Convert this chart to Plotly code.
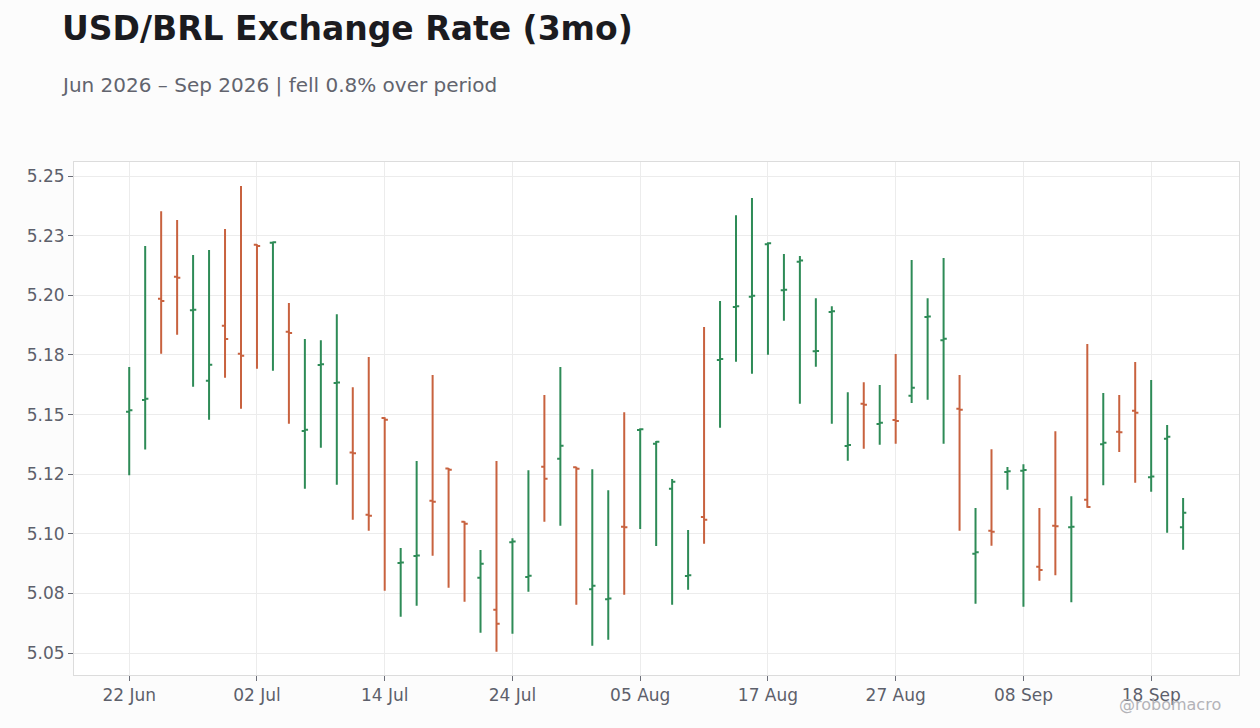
import plotly.graph_objects as go

dates = [
    "2026-06-22", "2026-06-23", "2026-06-24", "2026-06-25", "2026-06-26",
    "2026-06-29", "2026-06-30", "2026-07-01", "2026-07-02", "2026-07-03",
    "2026-07-06", "2026-07-07", "2026-07-08", "2026-07-09", "2026-07-10",
    "2026-07-13", "2026-07-14", "2026-07-15", "2026-07-16", "2026-07-17",
    "2026-07-20", "2026-07-21", "2026-07-22", "2026-07-23", "2026-07-24",
    "2026-07-27", "2026-07-28", "2026-07-29", "2026-07-30", "2026-07-31",
    "2026-08-03", "2026-08-04", "2026-08-05", "2026-08-06", "2026-08-07",
    "2026-08-10", "2026-08-11", "2026-08-12", "2026-08-13", "2026-08-14",
    "2026-08-17", "2026-08-18", "2026-08-19", "2026-08-20", "2026-08-21",
    "2026-08-24", "2026-08-25", "2026-08-26", "2026-08-27", "2026-08-28",
    "2026-08-31", "2026-09-01", "2026-09-02", "2026-09-03", "2026-09-04",
    "2026-09-07", "2026-09-08", "2026-09-09", "2026-09-10", "2026-09-11",
    "2026-09-14", "2026-09-15", "2026-09-16", "2026-09-17", "2026-09-18",
    "2026-09-21", "2026-09-22",
]

open_ = [
    5.1512, 5.1561, 5.1986, 5.2078, 5.1937, 5.1642, 5.1872, 5.1755, 5.2212, 5.2220,
    5.1847, 5.1431, 5.1708, 5.1632, 5.1341, 5.1080, 5.1486, 5.0878, 5.0907, 5.1139,
    5.1274, 5.1051, 5.0816, 5.0682, 5.0965, 5.0819, 5.1281, 5.1315, 5.1279, 5.0768,
    5.0726, 5.1030, 5.1435, 5.1378, 5.1189, 5.0823, 5.1071, 5.1729, 5.1951, 5.1994,
    5.2214, 5.2021, 5.2141, 5.1765, 5.1930, 5.1368, 5.1545, 5.1460, 5.1477, 5.1579,
    5.1909, 5.1812, 5.1524, 5.0916, 5.1013, 5.1259, 5.1264, 5.0862, 5.1034, 5.1028,
    5.1143, 5.1376, 5.1428, 5.1516, 5.1237, 5.1399, 5.1028,
]
high = [
    5.1699, 5.2207, 5.2353, 5.2316, 5.2169, 5.2190, 5.2278, 5.2458, 5.2214, 5.2226,
    5.1968, 5.1817, 5.1812, 5.1921, 5.1615, 5.1741, 5.1489, 5.0940, 5.1305, 5.1666,
    5.1276, 5.1053, 5.0932, 5.1305, 5.0981, 5.1267, 5.1582, 5.1699, 5.1281, 5.1271,
    5.1183, 5.1510, 5.1443, 5.1389, 5.1230, 5.1016, 5.1867, 5.1976, 5.2336, 5.2408,
    5.2223, 5.2173, 5.2165, 5.1988, 5.1954, 5.1594, 5.1636, 5.1624, 5.1754, 5.2148,
    5.1988, 5.2156, 5.1666, 5.1108, 5.1355, 5.1280, 5.1292, 5.1108, 5.1430, 5.1158,
    5.1796, 5.1590, 5.1582, 5.1720, 5.1645, 5.1456, 5.1150,
]
low = [
    5.1246, 5.1354, 5.1755, 5.1835, 5.1617, 5.1478, 5.1654, 5.1524, 5.1692, 5.1684,
    5.1461, 5.1189, 5.1361, 5.1206, 5.1059, 5.1013, 5.0761, 5.0652, 5.0698, 5.0908,
    5.0774, 5.0715, 5.0585, 5.0505, 5.0581, 5.0757, 5.1051, 5.1034, 5.0703, 5.0531,
    5.0556, 5.0744, 5.1020, 5.0949, 5.0703, 5.0765, 5.0958, 5.1445, 5.1721, 5.1671,
    5.1751, 5.1893, 5.1545, 5.1700, 5.1461, 5.1306, 5.1357, 5.1373, 5.1378, 5.1549,
    5.1562, 5.1378, 5.1013, 5.0707, 5.0950, 5.1185, 5.0694, 5.0803, 5.0826, 5.0713,
    5.1109, 5.1204, 5.1343, 5.1214, 5.1176, 5.1004, 5.0933,
]
close = [
    5.1518, 5.1566, 5.1976, 5.2074, 5.1940, 5.1709, 5.1817, 5.1747, 5.2207, 5.2223,
    5.1842, 5.1436, 5.1711, 5.1634, 5.1338, 5.1076, 5.1478, 5.0880, 5.0909, 5.1134,
    5.1269, 5.1042, 5.0874, 5.0623, 5.0968, 5.0824, 5.1231, 5.1369, 5.1273, 5.0782,
    5.0729, 5.1028, 5.1438, 5.1386, 5.1218, 5.0826, 5.1059, 5.1733, 5.1954, 5.1998,
    5.2218, 5.2023, 5.2146, 5.1767, 5.1933, 5.1372, 5.1541, 5.1466, 5.1473, 5.1612,
    5.1911, 5.1818, 5.1520, 5.0923, 5.1009, 5.1262, 5.1268, 5.0848, 5.1032, 5.1030,
    5.1112, 5.1382, 5.1426, 5.1508, 5.1240, 5.1407, 5.1088,
]

x_tick_vals = ["2026-06-22", "2026-07-02", "2026-07-14", "2026-07-24", "2026-08-05",
               "2026-08-17", "2026-08-27", "2026-09-08", "2026-09-18"]
y_tick_vals = [5.05, 5.075, 5.10, 5.125, 5.15, 5.175, 5.20, 5.225, 5.25]
y_tick_text = ["5.05", "5.08", "5.10", "5.12", "5.15", "5.18", "5.20", "5.23", "5.25"]

title_text = "USD/BRL Exchange Rate (3mo)"
subtitle_text = "Jun 2026 – Sep 2026 | fell 0.8% over period"
watermark_text = "@robomacro"

GREEN = "#2e8b57"
RED = "#c8623f"
FONT = "DejaVu Sans"
TICK_COLOR = "#5d606b"

fig = go.Figure(
    go.Ohlc(
        x=dates, open=open_, high=high, low=low, close=close,
        increasing=dict(line=dict(color=GREEN, width=2)),
        decreasing=dict(line=dict(color=RED, width=2)),
        tickwidth=0.2,
        showlegend=False,
    )
)

W, H = 1260, 728
ML, MR, MT, MB = 74, 21, 162, 53
PW, PH = W - ML - MR, H - MT - MB

def px_x(px):
    return (px - ML) / PW

def px_y(py):
    return (H - MB - py) / PH

fig.update_layout(
    width=W, height=H,
    margin=dict(l=ML, r=MR, t=MT, b=MB),
    paper_bgcolor="#fcfcfc",
    plot_bgcolor="#ffffff",
    font=dict(family=FONT, size=17, color=TICK_COLOR),
    showlegend=False,
    annotations=[
        dict(text="<b>" + title_text + "</b>", xref="paper", yref="paper",
             x=px_x(60), y=px_y(29), xanchor="left", yanchor="middle",
             showarrow=False, font=dict(family=FONT, size=33, color="#1b1b1f")),
        dict(text=subtitle_text, xref="paper", yref="paper",
             x=px_x(59), y=px_y(85), xanchor="left", yanchor="middle",
             showarrow=False, font=dict(family=FONT, size=20, color="#62646e")),
        dict(text=watermark_text, xref="paper", yref="paper",
             x=px_x(1223), y=px_y(705), xanchor="right", yanchor="middle",
             showarrow=False, font=dict(family=FONT, size=16, color="#b3b3b8")),
    ],
)

fig.update_xaxes(
    type="date",
    rangebreaks=[dict(bounds=["sat", "mon"])],
    range=["2026-06-16 13:00", "2026-09-25 12:00"],
    rangeslider=dict(visible=False),
    tickvals=x_tick_vals,
    tickformat="%d %b",
    showgrid=True, gridcolor="#ececec", gridwidth=1,
    showline=True, linecolor="#dcdcdc", linewidth=1, mirror=True,
    ticks="outside", ticklen=5, tickcolor="#6b6e78",
    tickfont=dict(family=FONT, size=17, color=TICK_COLOR),
    zeroline=False,
)
fig.update_yaxes(
    range=[5.0408, 5.2559],
    tickvals=y_tick_vals,
    ticktext=y_tick_text,
    showgrid=True, gridcolor="#ececec", gridwidth=1,
    showline=True, linecolor="#dcdcdc", linewidth=1, mirror=True,
    ticks="outside", ticklen=5, tickcolor="#6b6e78",
    tickfont=dict(family=FONT, size=17, color=TICK_COLOR),
    zeroline=False,
)

fig.write_html(
    "out.html",
    config={"displayModeBar": False},
    post_script="document.body.style.margin='0';",
)
